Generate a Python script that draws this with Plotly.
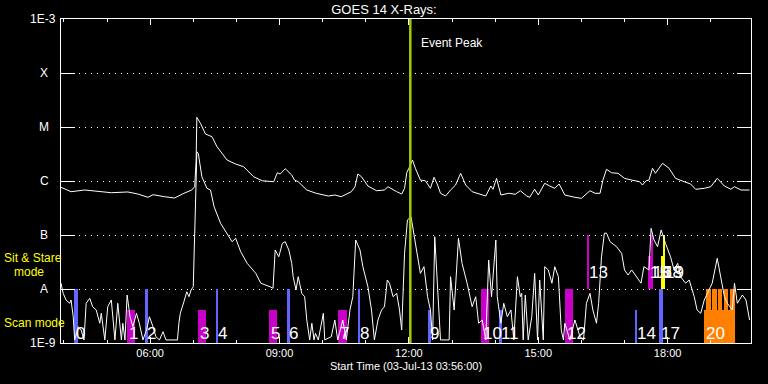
import math
import pandas as pd
import plotly.graph_objects as go

DAY = "2013-07-03"
START_MIN = 236      # 03:56 UT
END_MIN = 1196       # 19:56 UT
EVENT_PEAK_MIN = 722 # 12:02 UT

# ---- GOES long channel (1-8 A), time in minutes after 00:00 UT, flux W/m^2
long_t = [236, 250, 269, 287, 306, 329, 343, 357, 364, 380,
          394, 407, 418, 422, 424, 425, 430, 437, 446, 453,
          467, 479, 490, 504, 516, 532, 537, 541, 548, 557,
          561, 566, 578, 591, 608, 617, 626, 640, 645, 649,
          654, 663, 675, 686, 691, 703, 710, 714, 717, 720,
          725, 729, 736, 743, 750, 755, 760, 764, 771, 778,
          785, 792, 799, 808, 827, 834, 837, 842, 848, 859,
          868, 875, 884, 888, 895, 900, 909, 916, 923, 929,
          937, 951, 960, 972, 979, 986, 990, 995, 1002, 1011,
          1020, 1030, 1041, 1045, 1050, 1054, 1059, 1063, 1073, 1082,
          1091, 1103, 1112, 1119, 1131, 1140, 1149, 1159, 1168, 1173,
          1182, 1194]
long_f = [7.64e-7, 6.34e-7, 6.81e-7, 6.34e-7, 6.07e-7, 6.26e-7, 5.74e-7, 4.99e-7, 5.58e-7, 5.12e-7,
          4.84e-7, 5.92e-7, 6.81e-7, 7.84e-7, 2.45e-6, 1.51e-5, 1.17e-5, 7.42e-6, 6.61e-6, 4.32e-6,
          2.45e-6, 2.06e-6, 1.84e-6, 1.20e-6, 1.01e-6, 9.70e-7, 1.42e-6, 1.35e-6, 1.69e-6, 1.29e-6,
          1.04e-6, 9.70e-7, 6.81e-7, 5.92e-7, 5.27e-7, 5.50e-7, 5.12e-7, 6.34e-7, 7.84e-7, 1.35e-6,
          1.20e-6, 8.08e-7, 6.61e-7, 6.81e-7, 7.84e-7, 6.34e-7, 5.74e-7, 7.32e-7, 1.42e-6, 1.72e-6,
          2.45e-6, 1.72e-6, 1.04e-6, 1.01e-6, 7.32e-7, 1.17e-6, 8.43e-7, 5.92e-7, 5.27e-7, 6.81e-7,
          8.43e-7, 1.39e-6, 8.43e-7, 6.34e-7, 5.27e-7, 8.08e-7, 7.02e-7, 1.12e-6, 5.50e-7, 5.92e-7,
          5.67e-7, 6.61e-7, 5.27e-7, 4.99e-7, 7.02e-7, 5.50e-7, 9.07e-7, 8.08e-7, 7.32e-7, 8.80e-7,
          5.50e-7, 4.99e-7, 4.78e-7, 6.61e-7, 5.92e-7, 5.92e-7, 1.04e-6, 1.65e-6, 1.42e-6, 1.39e-6,
          1.12e-6, 1.04e-6, 9.70e-7, 8.43e-7, 1.01e-6, 1.04e-6, 1.72e-6, 1.39e-6, 2.13e-6, 1.72e-6,
          1.12e-6, 9.70e-7, 8.80e-7, 7.02e-7, 7.32e-7, 7.84e-7, 1.12e-6, 8.08e-7, 7.02e-7, 7.84e-7,
          6.81e-7, 6.81e-7]

# ---- GOES short channel (0.5-4 A)
short_t = [236, 239, 243, 248, 250, 253, 255, 260, 264, 268,
           271, 276, 280, 285, 290, 292, 297, 301, 306, 311,
           315, 320, 322, 325, 328, 332, 336, 341, 345, 350,
           355, 359, 364, 368, 373, 378, 382, 392, 398, 400,
           402, 407, 411, 414, 417, 420, 422, 424, 425, 427,
           432, 439, 444, 449, 458, 467, 474, 479, 486, 495,
           507, 514, 521, 527, 531, 534, 539, 544, 548, 553,
           557, 559, 563, 566, 571, 575, 578, 582, 585, 588,
           590, 594, 601, 603, 612, 617, 621, 628, 633, 638,
           642, 646, 652, 656, 663, 668, 672, 677, 682, 686,
           690, 693, 698, 703, 707, 710, 714, 717, 718, 723,
           727, 732, 736, 741, 746, 750, 753, 756, 760, 764,
           776, 778, 783, 789, 794, 801, 808, 813, 817, 822,
           827, 831, 835, 841, 843, 848, 852, 857, 862, 866,
           871, 875, 877, 879, 882, 886, 891, 895, 899, 902,
           907, 909, 914, 919, 923, 928, 932, 935, 937, 944,
           951, 958, 963, 967, 972, 976, 981, 984, 988, 992,
           995, 1000, 1009, 1016, 1020, 1025, 1030, 1037, 1043, 1047,
           1054, 1057, 1061, 1066, 1071, 1077, 1084, 1089, 1094, 1098,
           1105, 1110, 1117, 1121, 1126, 1131, 1138, 1142, 1149, 1154,
           1159, 1163, 1170, 1173, 1177, 1184, 1189, 1194]
short_f = [1.28e-8, 8.32e-9, 6.26e-9, 5.44e-9, 6.26e-9, 3.07e-9, 1.14e-9, 2.00e-9, 1.74e-9, 1.14e-9,
           5.44e-9, 6.73e-9, 4.70e-9, 4.08e-9, 2.32e-9, 3.55e-9, 1.14e-9, 4.70e-9, 6.26e-9, 1.14e-9,
           5.44e-9, 1.14e-9, 2.32e-9, 1.14e-9, 7.74e-9, 3.07e-9, 2.00e-9, 3.55e-9, 2.32e-9, 1.14e-9,
           1.74e-9, 3.07e-9, 2.00e-9, 1.31e-9, 1.14e-9, 1.62e-9, 1.14e-9, 1.14e-9, 1.14e-9, 2.32e-9,
           3.55e-9, 5.82e-9, 8.91e-9, 7.20e-9, 9.58e-9, 1.10e-8, 7.02e-8, 1.00e-6, 3.49e-6, 3.26e-6,
           1.20e-6, 7.32e-7, 6.81e-7, 3.34e-7, 1.65e-7, 1.08e-7, 7.51e-8, 8.69e-8, 4.91e-8, 2.99e-8,
           1.95e-8, 1.28e-8, 1.19e-8, 1.10e-8, 1.03e-8, 5.27e-8, 3.96e-8, 7.02e-8, 7.51e-8, 5.27e-8,
           2.99e-8, 1.69e-8, 9.58e-9, 1.69e-8, 8.32e-9, 7.20e-9, 2.67e-9, 1.14e-9, 2.32e-9, 1.14e-9,
           1.51e-9, 1.14e-9, 3.55e-9, 1.14e-9, 1.31e-9, 2.67e-9, 1.14e-9, 2.67e-9, 1.14e-9, 4.08e-9,
           7.20e-9, 8.08e-8, 5.27e-8, 2.59e-8, 1.10e-8, 4.08e-9, 1.14e-9, 2.67e-9, 4.08e-9, 4.70e-9,
           1.47e-8, 1.28e-8, 7.20e-9, 8.32e-9, 4.08e-9, 1.74e-9, 4.58e-8, 1.33e-7, 1.90e-7, 2.18e-7,
           1.08e-7, 4.58e-8, 1.95e-8, 2.59e-8, 7.20e-9, 4.08e-9, 1.14e-9, 9.30e-8, 8.32e-9, 1.14e-9,
           1.14e-9, 1.69e-8, 4.08e-9, 8.69e-8, 2.99e-8, 1.28e-8, 4.70e-9, 7.20e-9, 2.32e-9, 2.67e-9,
           1.14e-9, 3.44e-8, 7.20e-9, 8.08e-8, 7.20e-9, 2.32e-9, 5.44e-9, 3.07e-9, 4.08e-9, 1.14e-9,
           1.69e-8, 7.20e-9, 8.32e-9, 1.14e-9, 7.74e-9, 1.14e-9, 3.07e-9, 1.95e-8, 1.14e-9, 1.47e-8,
           1.14e-9, 2.59e-8, 2.25e-8, 1.28e-8, 2.59e-8, 1.69e-8, 1.74e-9, 1.14e-9, 2.32e-9, 1.14e-9,
           2.67e-9, 1.31e-9, 1.14e-9, 5.44e-9, 8.32e-9, 4.08e-9, 2.32e-9, 5.44e-9, 3.96e-8, 1.08e-7,
           1.08e-7, 7.51e-8, 6.07e-8, 4.58e-8, 2.25e-8, 1.82e-8, 2.25e-8, 1.69e-8, 1.28e-8, 2.59e-8,
           2.25e-8, 1.33e-7, 8.08e-8, 6.07e-8, 1.24e-7, 7.02e-8, 3.96e-8, 2.25e-8, 2.99e-8, 1.69e-8,
           1.28e-8, 1.47e-8, 7.20e-9, 4.08e-9, 3.55e-9, 6.26e-9, 9.58e-9, 1.28e-8, 3.70e-8, 1.69e-8,
           7.20e-9, 5.44e-9, 4.08e-9, 1.28e-8, 5.44e-9, 7.74e-9, 6.26e-9, 2.67e-9]

# ---- flare class levels (y tick labels)
level_vals = [1e-9, 1e-8, 1e-7, 1e-6, 1e-5, 1e-4, 1e-3]
level_labels = ["1E-9", "A", "B", "C", "M", "X", "1E-3"]

# ---- observation blocks (scan / sit & stare)
bar_labels = ["0", "1", "2", "3", "4", "5", "6", "7", "8", "9", "10",
              "11", "12", "13", "14", "15", "16", "17", "18", "19", "20"]
bar_start = [254, 328, 353, 426, 451.5, 525, 550, 622, 649, 746, 820,
             845, 937, 968.5, 1034, 1052, 1056.6, 1068.6, 1071.4, 1074.2, 1131]
bar_end = [260, 339, 357, 438, 455, 536, 554, 634.5, 652.6, 751, 831,
           849, 948, 970.5, 1038, 1056.6, 1060, 1073.2, 1075, 1075.6, 1174]
bar_bottom = [1e-9, 1e-9, 1e-9, 1e-9, 1e-9, 1e-9, 1e-9, 1e-9, 1e-9, 1e-9, 1e-9,
              1e-9, 1e-9, 1e-8, 1e-9, 1e-8, 1e-8, 1e-9, 1e-8, 1e-8, 1e-9]
bar_top = [1e-8, 4.1e-9, 1e-8, 4.1e-9, 1e-8, 4.1e-9, 1e-8, 4.1e-9, 1e-8, 4.1e-9, 1e-8,
           4.1e-9, 1e-8, 1e-7, 4.1e-9, 4.1e-8, 1e-7, 1e-8, 4.1e-8, 1e-7, 4.1e-9]
bar_kind = ["blue", "mag", "blue", "mag", "blue", "mag", "blue", "mag", "blue", "blue", "mag",
            "blue", "mag", "mag", "blue", "mag", "mag", "blue", "yel", "yel", "orange"]
# upper teeth of block 20
comb_start = [1133, 1142.3, 1150.6, 1159, 1167.3]
comb_end = [1140.2, 1148.5, 1156.2, 1164.5, 1174]
comb_bottom = 1e-9
comb_top = 1e-8

COLORS = {"blue": "#6464ff", "mag": "#c800c8", "yel": "#ffff00", "orange": "#ff8000"}

base = pd.Timestamp(DAY)


def tm(m):
    return base + pd.to_timedelta(m, unit="min")


W, H = 768, 384
ML, MR, MT, MB = 61, 17, 19, 41
PW, PH = W - ML - MR, H - MT - MB


def px(x):
    return (x - ML) / PW


def py(y):
    return 1 - (y - MT) / PH


fig = go.Figure()

# blocks
all_s = bar_start + comb_start
all_e = bar_end + comb_end
all_b = bar_bottom + [comb_bottom] * len(comb_start)
all_t = bar_top + [comb_top] * len(comb_start)
all_c = [COLORS[k] for k in bar_kind] + [COLORS["orange"]] * len(comb_start)
fig.add_trace(go.Bar(
    x=[tm((s + e) / 2) for s, e in zip(all_s, all_e)],
    width=[(e - s) * 60000 for s, e in zip(all_s, all_e)],
    base=all_b,
    y=[t - b for t, b in zip(all_t, all_b)],
    marker=dict(color=all_c, line=dict(width=0)),
    hoverinfo="skip", showlegend=False,
))

fig.add_trace(go.Scatter(x=[tm(m) for m in short_t], y=short_f, mode="lines",
                         line=dict(color="white", width=1), showlegend=False))
fig.add_trace(go.Scatter(x=[tm(m) for m in long_t], y=long_f, mode="lines",
                         line=dict(color="white", width=1), showlegend=False))

ann = []
# block labels
SCAN_LABEL_Y = 1.5e-9
SS_LABEL_Y = 2.06e-8
for lab, s, b in zip(bar_labels, bar_start, bar_bottom):
    ann.append(dict(x=tm(s), y=math.log10(SCAN_LABEL_Y if b < 5e-9 else SS_LABEL_Y),
                    xref="x", yref="y", text=lab, showarrow=False, xanchor="left",
                    yanchor="middle", xshift=0,
                    font=dict(size=17, color="white", family="Liberation Sans")))

# level labels
for v, lab in zip(level_vals, level_labels):
    if lab.startswith("1E"):
        ann.append(dict(x=0, xref="paper", y=math.log10(v), yref="y", text=lab,
                        showarrow=False, xanchor="right", yanchor="middle", xshift=-3,
                        font=dict(size=12, color="white")))
    else:
        ann.append(dict(x=0, xref="paper", y=math.log10(v), yref="y", text=lab,
                        showarrow=False, xanchor="center", yanchor="middle", xshift=-17,
                        font=dict(size=12, color="white")))

# mode labels
ann.append(dict(x=px(2), y=py(258), xref="paper", yref="paper", text="Sit & Stare",
                showarrow=False, xanchor="left", yanchor="middle",
                font=dict(size=12, color="#ffff00")))
ann.append(dict(x=px(12), y=py(272), xref="paper", yref="paper", text="mode",
                showarrow=False, xanchor="left", yanchor="middle",
                font=dict(size=12, color="#ffff00")))
ann.append(dict(x=px(2), y=py(323), xref="paper", yref="paper", text="Scan mode",
                showarrow=False, xanchor="left", yanchor="middle",
                font=dict(size=12, color="#ffff00")))

# event peak
ann.append(dict(x=tm(EVENT_PEAK_MIN), y=py(43), xref="x", yref="paper", text="Event Peak",
                showarrow=False, xanchor="left", yanchor="middle", xshift=9,
                font=dict(size=12, color="white")))

shapes = [dict(type="line", xref="x", yref="paper", x0=tm(EVENT_PEAK_MIN), x1=tm(EVENT_PEAK_MIN),
               y0=0, y1=1, line=dict(color="#a0cc00", width=2.5), layer="above")]

fig.update_layout(
    width=W, height=H,
    margin=dict(l=ML, r=MR, t=MT, b=MB, pad=0, autoexpand=False),
    paper_bgcolor="black", plot_bgcolor="black",
    font=dict(family="Liberation Sans", color="white", size=12),
    title=dict(text="GOES 14 X-Rays:", x=0.5, xanchor="center", y=1 - 9 / H, yanchor="middle",
               font=dict(size=13, color="white")),
    barmode="overlay", bargap=0,
    showlegend=False,
    annotations=ann,
    shapes=shapes,
    xaxis=dict(
        type="date", range=[tm(START_MIN), tm(END_MIN)],
        showline=True, linecolor="white", linewidth=1, mirror="ticks",
        ticks="inside", ticklen=6, tickcolor="white", tickwidth=1,
        tick0=base, dtick=3 * 3600000, tickformat="%H:%M",
        tickfont=dict(size=11, color="white"),
        minor=dict(ticks="inside", ticklen=3, dtick=3600000, tick0=base,
                   tickcolor="white", showgrid=False),
        showgrid=False, zeroline=False,
        title=dict(text="Start Time (03-Jul-13 03:56:00)", font=dict(size=11, color="white"),
                   standoff=4),
    ),
    yaxis=dict(
        type="log", range=[-9, -3],
        showline=True, linecolor="white", linewidth=1, mirror="ticks",
        ticks="inside", ticklen=14, tickcolor="white", tickwidth=1,
        tickvals=level_vals, showticklabels=False,
        showgrid=True, gridcolor="white", gridwidth=1, griddash="1px,5px",
        zeroline=False,
    ),
)

fig.write_html(
    "out.html",
    config={"displayModeBar": False},
    post_script="document.body.style.margin='0';document.body.style.background='black';",
)
